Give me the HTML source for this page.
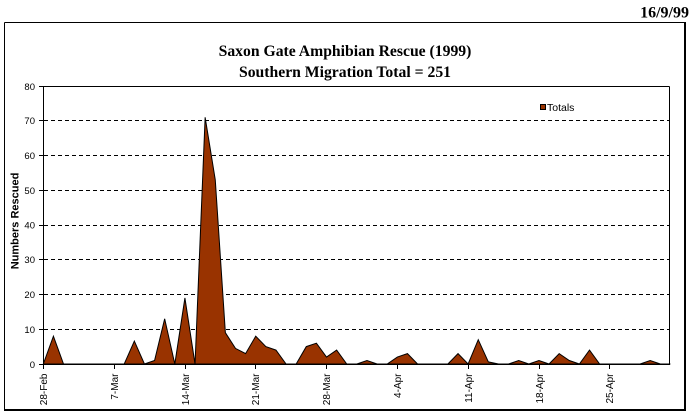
<!DOCTYPE html>
<html>
<head>
<meta charset="utf-8">
<style>
  html, body { margin: 0; padding: 0; background: #ffffff; }
  body { width: 696px; height: 417px; overflow: hidden; }
  svg { display: block; }
</style>
</head>
<body>
<svg width="696" height="417" viewBox="0 0 696 417" xmlns="http://www.w3.org/2000/svg">
  <rect x="0" y="0" width="696" height="417" fill="#ffffff"/>

  <!-- date -->
  <text x="689" y="17.5" text-anchor="end" font-family="Liberation Serif, serif" font-weight="bold" font-size="16" fill="#000">16/9/99</text>

  <!-- outer chart border -->
  <g shape-rendering="crispEdges" fill="none" stroke="#000">
    <line x1="4.5" y1="22.5" x2="685" y2="22.5" stroke-width="1"/>
    <line x1="4.5" y1="22.5" x2="4.5" y2="410" stroke-width="1"/>
    <line x1="685" y1="22" x2="685" y2="411" stroke-width="2"/>
    <line x1="4" y1="410" x2="686" y2="410" stroke-width="2"/>
  </g>

  <!-- titles -->
  <text x="345" y="56" text-anchor="middle" font-family="Liberation Serif, serif" font-weight="bold" font-size="15.7" fill="#000">Saxon Gate Amphibian Rescue (1999)</text>
  <text x="345" y="77" text-anchor="middle" font-family="Liberation Serif, serif" font-weight="bold" font-size="15.7" fill="#000">Southern Migration Total = 251</text>

  <!-- gridlines -->
  <g shape-rendering="crispEdges" stroke="#000" stroke-width="1" stroke-dasharray="4 3">
    <line x1="44" y1="329.5" x2="670" y2="329.5"/>
    <line x1="44" y1="294.5" x2="670" y2="294.5"/>
    <line x1="44" y1="259.5" x2="670" y2="259.5"/>
    <line x1="44" y1="225.5" x2="670" y2="225.5"/>
    <line x1="44" y1="190.5" x2="670" y2="190.5"/>
    <line x1="44" y1="155.5" x2="670" y2="155.5"/>
    <line x1="44" y1="120.5" x2="670" y2="120.5"/>
  </g>

  <!-- area series -->
  <polygon fill="#993300" stroke="#000" stroke-width="1" stroke-linejoin="miter"
    points="43.3,364 53.42,336.2 63.53,364 124.22,364 134.34,341.1 144.45,364 154.57,360.5 164.68,318.8 174.80,364 184.91,298 195.03,364 205.14,117.3 215.26,179.8 225.37,332.7 235.49,348.4 245.60,353.6 255.72,336.2 265.83,346.6 275.95,350.1 286.06,364 296.18,364 306.29,346.6 316.41,343.2 326.52,357.05 336.64,350.1 346.75,364 356.87,364 366.98,360.5 377.10,364 387.21,364 397.33,357.05 407.44,353.6 417.56,364 447.90,364 458.02,353.6 468.13,364 478.25,339.7 488.36,361.9 498.48,364 508.59,364 518.71,360.5 528.82,364 538.94,360.5 549.05,364 559.17,353.6 569.28,360.5 579.40,364 589.51,350.1 599.63,364 640.09,364 650.20,360.5 660.32,364 670.43,364"/>

  <!-- plot border / axes -->
  <g shape-rendering="crispEdges" stroke="#000" stroke-width="1" fill="none">
    <line x1="43.5" y1="86.5" x2="669.5" y2="86.5"/>
    <line x1="669.5" y1="86.5" x2="669.5" y2="364.5"/>
    <line x1="43.5" y1="86" x2="43.5" y2="365"/>
    <line x1="43" y1="364.5" x2="670" y2="364.5"/>
    <!-- y ticks -->
    <line x1="39" y1="86.5" x2="43" y2="86.5"/>
    <line x1="39" y1="120.5" x2="43" y2="120.5"/>
    <line x1="39" y1="155.5" x2="43" y2="155.5"/>
    <line x1="39" y1="190.5" x2="43" y2="190.5"/>
    <line x1="39" y1="225.5" x2="43" y2="225.5"/>
    <line x1="39" y1="259.5" x2="43" y2="259.5"/>
    <line x1="39" y1="294.5" x2="43" y2="294.5"/>
    <line x1="39" y1="329.5" x2="43" y2="329.5"/>
    <line x1="39" y1="364.5" x2="43" y2="364.5"/>
    <!-- x ticks -->
    <line x1="43.5" y1="364" x2="43.5" y2="369"/>
    <line x1="114.5" y1="364" x2="114.5" y2="369"/>
    <line x1="185.5" y1="364" x2="185.5" y2="369"/>
    <line x1="255.5" y1="364" x2="255.5" y2="369"/>
    <line x1="326.5" y1="364" x2="326.5" y2="369"/>
    <line x1="397.5" y1="364" x2="397.5" y2="369"/>
    <line x1="468.5" y1="364" x2="468.5" y2="369"/>
    <line x1="539.5" y1="364" x2="539.5" y2="369"/>
    <line x1="609.5" y1="364" x2="609.5" y2="369"/>
  </g>

  <!-- y labels -->
  <g font-family="Liberation Sans, Arial, sans-serif" font-size="9.5" fill="#000" text-anchor="end">
    <text x="35" y="89.8">80</text>
    <text x="35" y="124">70</text>
    <text x="35" y="159">60</text>
    <text x="35" y="193.8">50</text>
    <text x="35" y="228.5">40</text>
    <text x="35" y="263">30</text>
    <text x="35" y="298">20</text>
    <text x="35" y="333">10</text>
    <text x="35" y="367.8">0</text>
  </g>

  <!-- y axis title -->
  <text transform="translate(18.5,221) rotate(-90)" text-anchor="middle" font-family="Liberation Sans, Arial, sans-serif" font-weight="bold" font-size="11" fill="#000">Numbers Rescued</text>

  <!-- x labels -->
  <g font-family="Liberation Sans, Arial, sans-serif" font-size="10" fill="#000" text-anchor="end">
    <text transform="translate(46.8,373.5) rotate(-90)">28-Feb</text>
    <text transform="translate(117.8,373.5) rotate(-90)">7-Mar</text>
    <text transform="translate(188.8,373.5) rotate(-90)">14-Mar</text>
    <text transform="translate(258.8,373.5) rotate(-90)">21-Mar</text>
    <text transform="translate(329.8,373.5) rotate(-90)">28-Mar</text>
    <text transform="translate(400.8,373.5) rotate(-90)">4-Apr</text>
    <text transform="translate(471.8,373.5) rotate(-90)">11-Apr</text>
    <text transform="translate(542.8,373.5) rotate(-90)">18-Apr</text>
    <text transform="translate(612.8,373.5) rotate(-90)">25-Apr</text>
  </g>

  <!-- legend -->
  <rect x="540.5" y="104.5" width="5" height="5" fill="#993300" stroke="#000" stroke-width="1" shape-rendering="crispEdges"/>
  <text x="547" y="111" font-family="Liberation Sans, Arial, sans-serif" font-size="10.5" fill="#000">Totals</text>
</svg>
</body>
</html>
